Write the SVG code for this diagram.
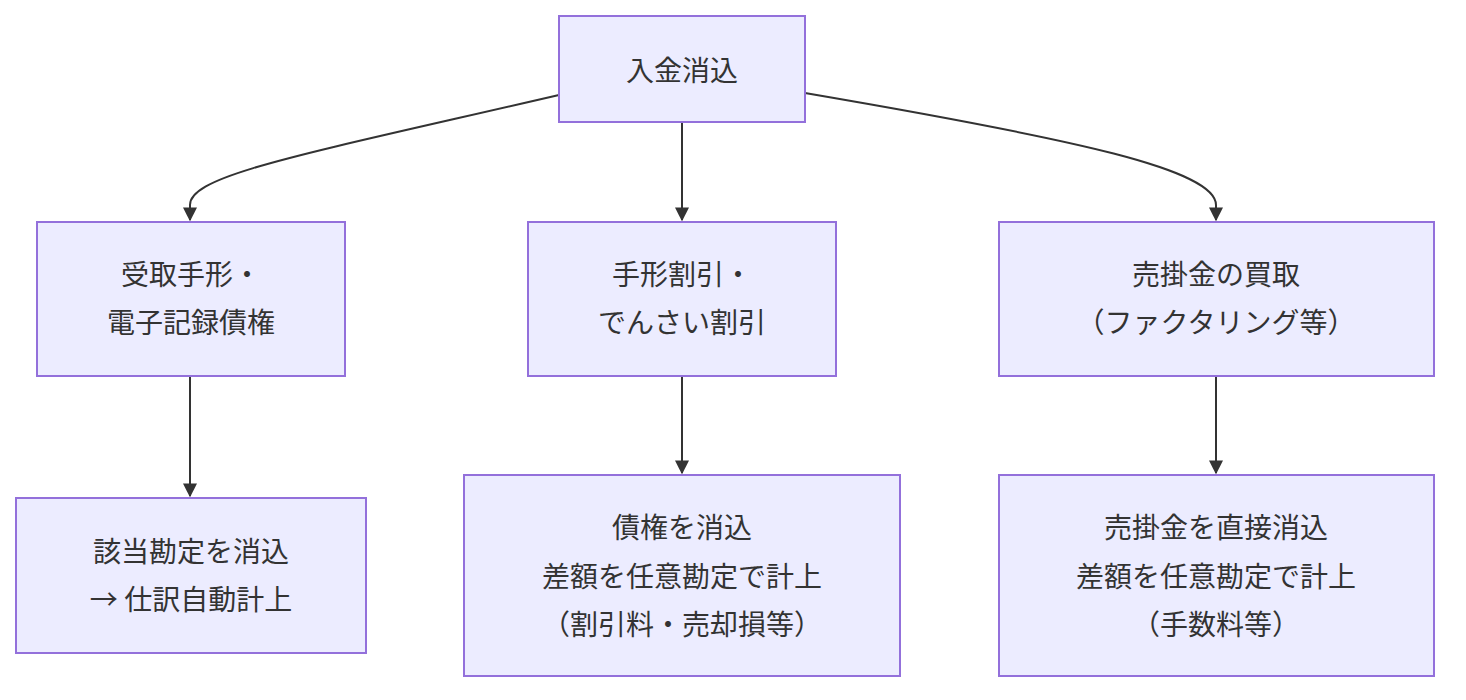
<svg xmlns="http://www.w3.org/2000/svg" width="1466" height="700" viewBox="0 0 1466 700">
<style>
.n{fill:#ECECFF;stroke:#9370DB;stroke-width:2}
.t{font-family:"Noto Sans CJK JP","Noto Sans",sans-serif;font-size:28px;fill:#333;text-anchor:middle;dominant-baseline:central}
.e{fill:none;stroke:#333;stroke-width:2;marker-end:url(#a)}
</style>
<defs><marker id="a" viewBox="0 0 10 10" refX="9" refY="5" markerWidth="7" markerHeight="7" orient="auto"><path d="M0,0L10,5L0,10z" fill="#333"/></marker></defs>
<rect width="1466" height="700" fill="#fff"/>
<g id="edges">
<path class="e" d="M559,95 C300,155 190,175 190,205 L190,220"/>
<path class="e" d="M682,122 L682,220"/>
<path class="e" d="M805,93 C1080,140 1216,170 1216,205 L1216,220"/>
<path class="e" d="M190,376 L190,496"/>
<path class="e" d="M682,376 L682,473"/>
<path class="e" d="M1216,376 L1216,473"/>
</g>
<g id="n0"><rect class="n" x="559" y="16" width="246" height="106"/><text class="t" x="682" y="69">入金消込</text></g>
<g id="n1"><rect class="n" x="37" y="222" width="308" height="154"/><text class="t" x="191" y="273">受取手形・</text><text class="t" x="191" y="321">電子記録債権</text></g>
<g id="n2"><rect class="n" x="528" y="222" width="308" height="154"/><text class="t" x="682" y="273">手形割引・</text><text class="t" x="682" y="321">でんさい割引</text></g>
<g id="n3"><rect class="n" x="999" y="222" width="435" height="154"/><text class="t" x="1216" y="273">売掛金の買取</text><text class="t" x="1216" y="321">（ファクタリング等）</text></g>
<g id="n4"><rect class="n" x="16" y="498" width="350" height="155"/><text class="t" x="191" y="550">該当勘定を消込</text><text class="t" x="191" y="598">→ 仕訳自動計上</text></g>
<g id="n5"><rect class="n" x="464" y="475" width="436" height="201"/><text class="t" x="682" y="526">債権を消込</text><text class="t" x="682" y="575">差額を任意勘定で計上</text><text class="t" x="682" y="623">（割引料・売却損等）</text></g>
<g id="n6"><rect class="n" x="999" y="475" width="435" height="201"/><text class="t" x="1216" y="526">売掛金を直接消込</text><text class="t" x="1216" y="575">差額を任意勘定で計上</text><text class="t" x="1216" y="623">（手数料等）</text></g>
</svg>
